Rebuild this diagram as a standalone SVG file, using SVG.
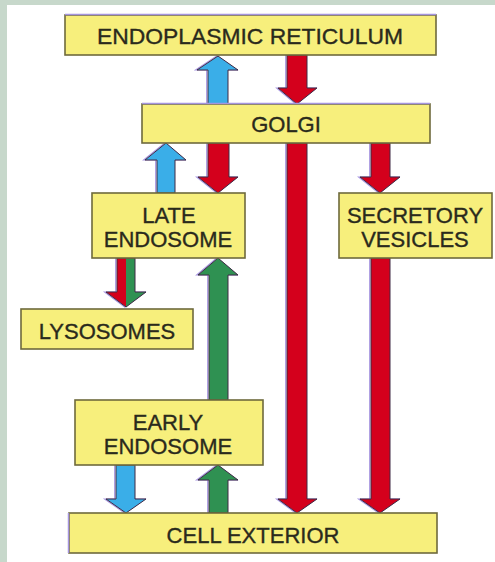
<svg xmlns="http://www.w3.org/2000/svg" width="495" height="562" viewBox="0 0 495 562">
<style>
.box{fill:#f7ef7c;stroke:#6e6a3c;stroke-width:1.6}
.sh{fill:none;stroke:#a595df;stroke-width:1.5}
.t{font-family:"Liberation Sans",Arial,sans-serif;font-size:22px;fill:#2a2a1c;stroke:#2a2a1c;stroke-width:0.35;text-anchor:middle}
.ar{stroke:#3f2a45;stroke-width:1;stroke-linejoin:miter}
.glow{fill:none;stroke:#a898e0;stroke-width:1.2}
.red{fill:#d4001c}
.blue{fill:#3aaee8}
.green{fill:#2f9152}
</style>
<rect x="0" y="0" width="495" height="562" fill="#c7d8cb"/>
<rect x="7" y="5" width="488" height="557" fill="#ffffff"/>

<g id="connectors">
  <g transform="translate(-1.3,0)" class="glow">
    <polygon points="208,104 208,70 197,70 218,56 238,70 228,70 228,104"/>
    <polygon points="287,55 307,55 307,88 317,88 297,104 278,88 287,88"/>
    <polygon points="157,193 157,160 145,160 166,143 186,160 175,160 175,193"/>
    <polygon points="208,143 229,143 229,177 238,177 218,193 198,177 208,177"/>
    <polygon points="287,143 307,143 307,499 317,499 297,513 278,499 287,499"/>
    <polygon points="371,143 390,143 390,177 400,177 380,193 360,177 371,177"/>
    <polygon points="371,258 390,258 390,499 400,499 380,513 360,499 371,499"/>
    <polygon points="117,258 135,258 135,292 146,292 126,307 106,292 117,292"/>
    <polygon points="209,400 209,275 198,275 218,258 238,275 228,275 228,400"/>
    <polygon points="116,465 135,465 135,499 146,499 126,513 106,499 116,499"/>
    <polygon points="209,513 209,480 198,480 218,465 238,480 228,480 228,513"/>
  </g>
  <polygon class="ar blue" points="208,104 208,70 197,70 218,56 238,70 228,70 228,104"/>
  <polygon class="ar red" points="287,55 307,55 307,88 317,88 297,104 278,88 287,88"/>
  <polygon class="ar blue" points="157,193 157,160 145,160 166,143 186,160 175,160 175,193"/>
  <polygon class="ar red" points="208,143 229,143 229,177 238,177 218,193 198,177 208,177"/>
  <polygon class="ar red" points="287,143 307,143 307,499 317,499 297,513 278,499 287,499"/>
  <polygon class="ar red" points="371,143 390,143 390,177 400,177 380,193 360,177 371,177"/>
  <polygon class="ar red" points="371,258 390,258 390,499 400,499 380,513 360,499 371,499"/>
  <polygon class="red" points="117,258 126,258 126,307 106,292 117,292"/>
  <polygon class="green" points="126,258 135,258 135,292 146,292 126,307"/>
  <polygon class="ar" fill="none" points="117,258 135,258 135,292 146,292 126,307 106,292 117,292"/>
  <polygon class="ar green" points="209,400 209,275 198,275 218,258 238,275 228,275 228,400"/>
  <polygon class="ar blue" points="116,465 135,465 135,499 146,499 126,513 106,499 116,499"/>
  <polygon class="ar green" points="209,513 209,480 198,480 218,465 238,480 228,480 228,513"/>
</g>

<g id="er">
  <rect class="box" x="65" y="15" width="371" height="40"/>
  <path class="sh" d="M65,14.5 H436"/>
  <text class="t" x="250" y="44" textLength="306" lengthAdjust="spacingAndGlyphs">ENDOPLASMIC RETICULUM</text>
</g>
<g id="golgi">
  <rect class="box" x="142" y="104" width="288" height="39"/>
  <path class="sh" d="M142,103.5 H430"/>
  <text class="t" x="286" y="132">GOLGI</text>
</g>
<g id="late-endosome">
  <rect class="box" x="92" y="193" width="153" height="65"/>
  <text class="t" x="169" y="223">LATE</text>
  <text class="t" x="168" y="247">ENDOSOME</text>
</g>
<g id="secretory-vesicles">
  <rect class="box" x="339" y="193" width="153" height="65"/>
  <text class="t" x="415" y="223">SECRETORY</text>
  <text class="t" x="415" y="247">VESICLES</text>
</g>
<g id="lysosomes">
  <rect class="box" x="21" y="309" width="172" height="40"/>
  <text class="t" x="107" y="339">LYSOSOMES</text>
</g>
<g id="early-endosome">
  <rect class="box" x="75" y="400" width="188" height="65"/>
  <text class="t" x="168" y="430">EARLY</text>
  <text class="t" x="168" y="454">ENDOSOME</text>
</g>
<g id="cell-exterior">
  <rect class="box" x="69" y="513" width="368" height="40"/>
  <path class="sh" d="M68.5,513 V553"/>
  <text class="t" x="253" y="543">CELL EXTERIOR</text>
</g>
</svg>
